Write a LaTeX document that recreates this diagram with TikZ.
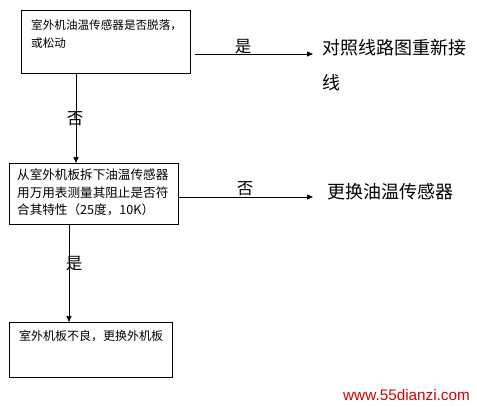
\documentclass[tikz,border=0pt]{standalone}
\usepackage{fontspec}
\setmainfont{Noto Sans CJK SC}
\newfontfamily\wmfont{Liberation Sans}
\usetikzlibrary{arrows.meta}
\begin{document}
\begin{tikzpicture}[x=1pt,y=-1pt,
  boxstyle/.style={draw=black, line width=1pt},
  conn/.style={line width=0.9pt, -{Triangle[length=6pt,width=5pt]}},
  lab/.style={font=\fontsize{16.5}{18}\selectfont, inner sep=0pt},
  bigtext/.style={font=\fontsize{18}{20}\selectfont, inner sep=0pt, anchor=west},
  boxtext/.style={font=\fontsize{11.6}{18}\selectfont, inner sep=0pt, anchor=north west, align=left}]
\useasboundingbox (0,0) rectangle (477,407);
% boxes
\draw[boxstyle] (21,10) rectangle (190,73);
\node[boxtext] (t1) at (31,19) {室外机油温传感器是否脱落，\\或松动};
\draw[boxstyle] (9,163) rectangle (178,224);
\node[boxtext, font=\fontsize{12.6}{17.5}\selectfont] (t2) at (17,169) {从室外机板拆下油温传感器\\用万用表测量其阻止是否符\\合其特性（25度，10K）};
\draw[boxstyle] (9,322) rectangle (172,377);
\node[boxtext, font=\fontsize{12}{18}\selectfont] (t3) at (19,330) {室外机板不良，更换外机板};
% named anchor coordinates
\coordinate (b1r) at (195,54);
\coordinate (b1b) at (76,73);
\coordinate (b2t) at (76,163);
\coordinate (b2r) at (178,197);
\coordinate (b2b) at (69,224);
\coordinate (b3t) at (69,322);
\node[bigtext] (r1) at (322,48) {对照线路图重新接};
\node[bigtext] (r1b) at (322,83) {线};
\node[bigtext] (r2) at (327,192) {更换油温传感器};
\coordinate (r1in) at (313,54);
\coordinate (r2in) at (313,197);
% connectors
\draw[conn] (b1r) -- (r1in);
\draw[conn] (b1b) -- (b2t);
\draw[conn] (b2r) -- (r2in);
\draw[conn] (b2b) -- (b3t);
% labels
\node[lab] (l1) at (243,47) {是};
\node[lab] (l2) at (75,119) {否};
\node[lab] (l3) at (245,189) {否};
\node[lab] (l4) at (74,264) {是};
% watermark
\node[anchor=west, inner sep=0pt, text=red!85!black, font=\wmfont\fontsize{15.3}{16}\selectfont] (wm) at (343,395) {www.55dianzi.com};
\end{tikzpicture}
\end{document}
